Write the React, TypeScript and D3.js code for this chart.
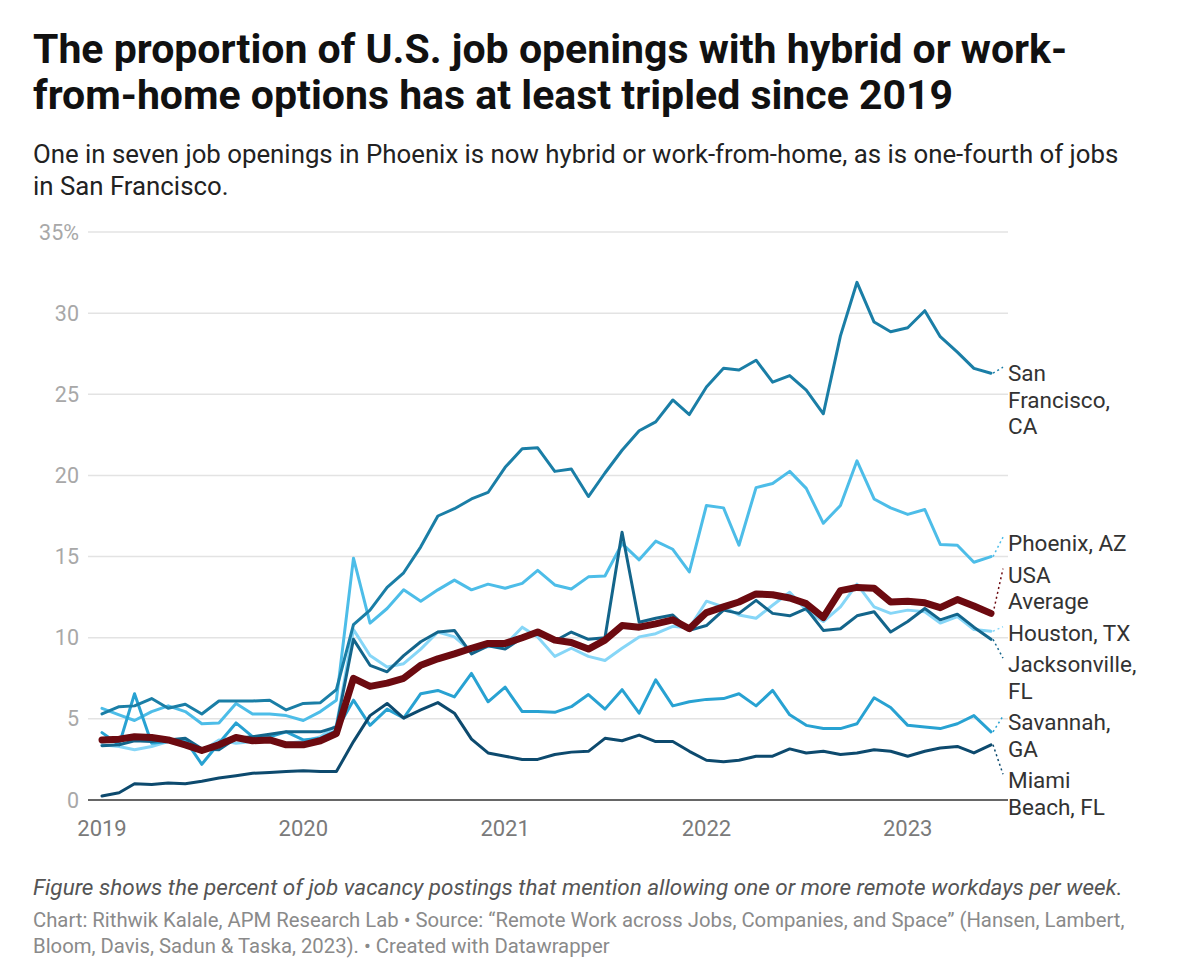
import React from 'react';
import * as d3 from 'd3';

// monthly, Jan 2019 – Jun 2023
const months = d3.timeMonths(new Date(2019, 0, 1), new Date(2023, 6, 1));

const sanFrancisco = [
  5.3, 5.75, 5.8, 6.25, 5.65, 5.9, 5.3, 6.1, 6.1, 6.1, 6.15, 5.55,
  5.95, 6.0, 6.8, 10.8, 11.7, 13.1, 14.0, 15.6, 17.5, 17.95, 18.55, 18.95,
  20.5, 21.65, 21.7, 20.25, 20.4, 18.7, 20.15, 21.55, 22.75, 23.3, 24.65, 23.75,
  25.45, 26.6, 26.5, 27.1, 25.75, 26.15, 25.25, 23.8, 28.6, 31.9, 29.45, 28.85,
  29.1, 30.15, 28.55, 27.6, 26.6, 26.3,
];
const phoenix = [
  5.65, 5.25, 4.9, 5.45, 5.8, 5.45, 4.7, 4.75, 5.95, 5.3, 5.3, 5.2,
  4.9, 5.45, 6.15, 14.9, 10.9, 11.8, 12.95, 12.25, 12.95, 13.55, 12.95, 13.3,
  13.05, 13.35, 14.15, 13.25, 13.0, 13.75, 13.8, 15.8, 14.8, 15.95, 15.45, 14.05,
  18.15, 18.0, 15.7, 19.25, 19.5, 20.25, 19.2, 17.05, 18.15, 20.9, 18.55, 18.0,
  17.6, 17.9, 15.75, 15.7, 14.65, 15.0,
];
const usaAverage = [
  3.7, 3.75, 3.9, 3.85, 3.7, 3.4, 3.05, 3.4, 3.85, 3.65, 3.7, 3.4,
  3.4, 3.65, 4.1, 7.5, 7.0, 7.2, 7.5, 8.3, 8.7, 9.0, 9.35, 9.65,
  9.65, 10.0, 10.35, 9.85, 9.7, 9.3, 9.85, 10.75, 10.65, 10.85, 11.1, 10.55,
  11.55, 11.9, 12.2, 12.7, 12.65, 12.45, 12.1, 11.25, 12.9, 13.1, 13.05, 12.2,
  12.25, 12.15, 11.85, 12.35, 11.95, 11.5,
];
const houston = [
  3.4, 3.3, 3.1, 3.3, 3.6, 3.3, 3.0, 3.7, 3.5, 3.6, 3.7, 3.5,
  3.6, 3.9, 4.6, 10.5, 8.9, 8.2, 8.4, 9.3, 10.35, 10.05, 9.15, 9.45,
  9.55, 10.65, 10.05, 8.85, 9.35, 8.85, 8.6, 9.35, 10.05, 10.25, 10.7, 10.6,
  12.25, 11.9, 11.4, 11.2, 12.0, 12.8, 11.7, 11.0, 11.9, 13.3, 11.9, 11.5,
  11.7, 11.6, 10.9, 11.3, 10.5, 10.4,
];
const jacksonville = [
  3.35, 3.4, 3.65, 3.6, 3.7, 3.8, 3.15, 3.1, 3.8, 3.9, 4.05, 4.2,
  4.2, 4.2, 4.5, 9.9, 8.3, 7.9, 8.9, 9.75, 10.35, 10.45, 9.0, 9.5,
  9.3, 10.0, 10.3, 9.8, 10.35, 9.9, 10.0, 16.5, 10.95, 11.2, 11.4, 10.45,
  10.75, 11.7, 11.5, 12.3, 11.5, 11.35, 11.8, 10.45, 10.55, 11.35, 11.6, 10.35,
  11.0, 11.8, 11.1, 11.45, 10.65, 9.9,
];
const savannah = [
  4.15, 3.4, 6.55, 3.5, 3.6, 3.7, 2.2, 3.5, 4.75, 3.9, 3.9, 4.2,
  3.7, 3.8, 4.3, 6.15, 4.6, 5.6, 5.05, 6.55, 6.75, 6.35, 7.8, 6.05,
  6.95, 5.45, 5.45, 5.4, 5.75, 6.5, 5.6, 6.8, 5.35, 7.4, 5.8, 6.05,
  6.2, 6.25, 6.55, 5.8, 6.75, 5.25, 4.6, 4.4, 4.4, 4.7, 6.3, 5.7,
  4.6, 4.5, 4.4, 4.7, 5.2, 4.2,
];
const miamiBeach = [
  0.25, 0.45, 1.0, 0.95, 1.05, 1.0, 1.15, 1.35, 1.5, 1.65, 1.7, 1.75,
  1.8, 1.75, 1.75, 3.6, 5.2, 5.95, 5.05, 5.55, 6.0, 5.35, 3.75, 2.9,
  2.7, 2.5, 2.5, 2.8, 2.95, 3.0, 3.8, 3.65, 4.0, 3.6, 3.6, 3.0,
  2.45, 2.35, 2.45, 2.7, 2.7, 3.15, 2.9, 3.0, 2.8, 2.9, 3.1, 3.0,
  2.7, 3.0, 3.2, 3.3, 2.9, 3.4,
];

const yTicks = [0, 5, 10, 15, 20, 25, 30, 35];
const yearTicks = [2019, 2020, 2021, 2022, 2023];

// drawing order: first is at the back
const series = [
  { key: 'hou', label: ['Houston, TX'], color: '#86d6f7', width: 3, values: houston },
  { key: 'phx', label: ['Phoenix, AZ'], color: '#4dbde8', width: 3, values: phoenix },
  { key: 'sav', label: ['Savannah,', 'GA'], color: '#28a2d2', width: 3, values: savannah },
  { key: 'sf', label: ['San', 'Francisco,', 'CA'], color: '#1a7ea6', width: 3, values: sanFrancisco },
  { key: 'jax', label: ['Jacksonville,', 'FL'], color: '#13658b', width: 3, values: jacksonville },
  { key: 'mia', label: ['Miami', 'Beach, FL'], color: '#0d4a6e', width: 3, values: miamiBeach },
  { key: 'usa', label: ['USA', 'Average'], color: '#6c0a10', width: 7, values: usaAverage },
];

const W = 1188;
const H = 974;
const FONT = 'Roboto, "Noto Sans", sans-serif';
const LH = 26.5;
const GAP = 5;

const App: React.FC = () => {
  const x = d3.scaleTime().domain([months[0], months[months.length - 1]]).range([102, 991]);
  const y = d3.scaleLinear().domain([0, 35]).range([800, 232]);
  const gridL = 88;
  const gridR = 1008;
  const labelX = 1008;

  const line = d3
    .line<number>()
    .x((_, i) => x(months[i]))
    .y((d) => y(d))
    .curve(d3.curveLinear);

  // label dodge: keep order, merge overlapping blocks and centre them on their targets
  type Lab = { key: string; label: string[]; color: string; target: number; h: number; top?: number };
  const labs: Lab[] = series
    .map((s) => ({
      key: s.key,
      label: s.label,
      color: s.color,
      target: y(s.values[s.values.length - 1]),
      h: s.label.length * LH,
    }))
    .sort((a, b) => a.target - b.target);

  let blocks = labs.map((l) => ({ items: [l], top: l.target - LH / 2, h: l.h }));
  let merged = true;
  while (merged) {
    merged = false;
    for (let i = 0; i < blocks.length - 1; i++) {
      const a = blocks[i];
      const b = blocks[i + 1];
      if (a.top + a.h + GAP > b.top) {
        const items = [...a.items, ...b.items];
        let off = 0;
        const offs = items.map((it) => {
          const o = off;
          off += it.h + GAP;
          return o;
        });
        const top = d3.mean(items, (it, k) => it.target - LH / 2 - offs[k]) as number;
        blocks.splice(i, 2, { items, top, h: off - GAP });
        merged = true;
        break;
      }
    }
  }
  blocks.forEach((b) => {
    let t = b.top;
    b.items.forEach((it) => {
      it.top = t;
      t += it.h + GAP;
    });
  });

  const xEnd = x(months[months.length - 1]);

  return (
    <svg
      width={W}
      height={H}
      viewBox={`0 0 ${W} ${H}`}
      style={{ position: 'absolute', left: 0, top: 0, background: '#fff' }}
      fontFamily={FONT}
    >
      <rect width={W} height={H} fill="#fff" />

      <text x={33} y={63} fontSize={41} fontWeight={700} fill="#111">
        The proportion of U.S. job openings with hybrid or work-
      </text>
      <text x={33} y={109} fontSize={41} fontWeight={700} fill="#111">
        from-home options has at least tripled since 2019
      </text>

      <text x={33} y={163} fontSize={25.8} fill="#222">
        One in seven job openings in Phoenix is now hybrid or work-from-home, as is one-fourth of jobs
      </text>
      <text x={33} y={195} fontSize={25.8} fill="#222">
        in San Francisco.
      </text>

      {/* grid + y labels */}
      {yTicks.map((t) => (
        <g key={t}>
          {t > 0 && (
            <line x1={gridL} x2={gridR} y1={y(t)} y2={y(t)} stroke="#e3e3e3" strokeWidth={1.5} />
          )}
          <text
            x={79}
            y={y(t)}
            dy="0.35em"
            textAnchor="end"
            fontSize={21.5}
            fill="#a8a8a8"
          >
            {t === 35 ? `${t}%` : t}
          </text>
        </g>
      ))}

      {/* x labels */}
      {yearTicks.map((yr) => (
        <text
          key={yr}
          x={x(new Date(yr, 0, 1))}
          y={836}
          textAnchor="middle"
          fontSize={22}
          fill="#7a7a7a"
        >
          {yr}
        </text>
      ))}

      {/* lines */}
      {series.map((s) => (
        <path
          key={s.key}
          d={line(s.values) ?? ''}
          fill="none"
          stroke={s.color}
          strokeWidth={s.width}
          strokeLinejoin="round"
          strokeLinecap="round"
        />
      ))}

      <line x1={gridL} x2={gridR} y1={y(0)} y2={y(0)} stroke="#333" strokeWidth={1.5} />

      {/* direct labels */}
      {labs.map((l) => {
        const first = (l.top as number) + LH / 2;
        return (
          <g key={l.key}>
            <line
              x1={xEnd + 2}
              y1={l.target}
              x2={labelX - 5}
              y2={first - 6}
              stroke={l.color}
              strokeWidth={1.5}
              strokeDasharray="2 3"
            />
            {l.label.map((ln, i) => (
              <text
                key={i}
                x={labelX}
                y={first + i * LH}
                dy="0.35em"
                fontSize={22.5}
                fill="#333"
              >
                {ln}
              </text>
            ))}
          </g>
        );
      })}

      {/* notes */}
      <text x={33} y={895} fontSize={22.5} fontStyle="italic" fill="#555">
        Figure shows the percent of job vacancy postings that mention allowing one or more remote workdays per week.
      </text>
      <text x={33} y={927} fontSize={20.3} fill="#8a8a8a">
        Chart: Rithwik Kalale, APM Research Lab • Source: “Remote Work across Jobs, Companies, and Space” (Hansen, Lambert,
      </text>
      <text x={33} y={953} fontSize={20.3} fill="#8a8a8a">
        Bloom, Davis, Sadun &amp; Taska, 2023). • Created with Datawrapper
      </text>
    </svg>
  );
};

export default App;
